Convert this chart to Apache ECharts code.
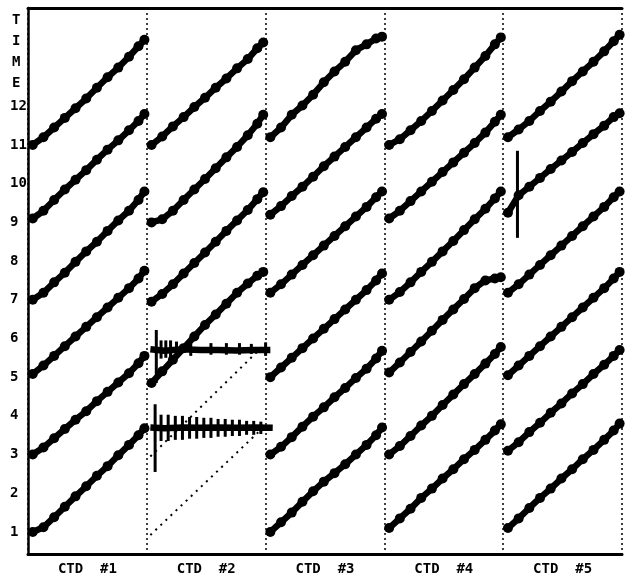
<!DOCTYPE html>
<html lang="en">
<head>
<meta charset="UTF-8">
<title>CTD TIME</title>
<script src="https://cdn.jsdelivr.net/npm/echarts@6/dist/echarts.min.js"></script>
<style>
  html, body { margin: 0; padding: 0; background: #fff; }
  #main { width: 628px; height: 579px; }
</style>
</head>
<body>
<div id="main"></div>
<script>
// panel names along the bottom, time ticks on the left
var ctdNames = ['CTD  #1', 'CTD  #2', 'CTD  #3', 'CTD  #4', 'CTD  #5'];
var timeTicks = [1, 2, 3, 4, 5, 6, 7, 8, 9, 10, 11, 12];

// position inside a panel (0 = left divider, 1 = right divider)
var fracs = [0.04, 0.13, 0.22, 0.31, 0.40, 0.49, 0.58, 0.67, 0.76, 0.85, 0.93, 0.98];

// each panel: segments from bottom to top, time read at every frac
var ctd1 = [
    [1.0, 1.12, 1.38, 1.65, 1.92, 2.18, 2.45, 2.7, 2.98, 3.25, 3.5, 3.68],
    [3.0, 3.18, 3.42, 3.66, 3.9, 4.12, 4.38, 4.62, 4.86, 5.1, 5.36, 5.55],
    [5.08, 5.3, 5.55, 5.8, 6.05, 6.3, 6.55, 6.8, 7.05, 7.3, 7.55, 7.75],
    [7.0, 7.18, 7.45, 7.7, 7.98, 8.25, 8.5, 8.78, 9.05, 9.3, 9.58, 9.8],
    [9.1, 9.3, 9.58, 9.85, 10.1, 10.35, 10.62, 10.88, 11.12, 11.38, 11.62, 11.8],
    [11.0, 11.2, 11.45, 11.7, 11.95, 12.2, 12.48, 12.75, 13.0, 13.28, 13.55, 13.72]
];
var ctd2 = [
    [4.85, 5.15, 5.45, 5.75, 6.05, 6.35, 6.62, 6.9, 7.18, 7.42, 7.62, 7.72],
    [6.95, 7.15, 7.4, 7.68, 7.95, 8.22, 8.5, 8.78, 9.05, 9.32, 9.6, 9.78],
    [9.0, 9.08, 9.3, 9.58, 9.85, 10.12, 10.4, 10.68, 10.95, 11.25, 11.55, 11.78],
    [11.0, 11.22, 11.48, 11.72, 11.98, 12.22, 12.48, 12.72, 12.98, 13.22, 13.5, 13.65]
];
var ctd3 = [
    [1.0, 1.25, 1.5, 1.78, 2.05, 2.3, 2.52, 2.75, 3.0, 3.25, 3.5, 3.7],
    [3.0, 3.2, 3.45, 3.72, 3.98, 4.22, 4.48, 4.72, 4.98, 5.22, 5.48, 5.68],
    [5.0, 5.25, 5.5, 5.75, 6.0, 6.25, 6.5, 6.75, 7.0, 7.25, 7.5, 7.68],
    [7.18, 7.4, 7.65, 7.9, 8.15, 8.4, 8.65, 8.9, 9.15, 9.4, 9.65, 9.8],
    [9.2, 9.42, 9.68, 9.92, 10.18, 10.45, 10.7, 10.95, 11.2, 11.45, 11.68, 11.8],
    [11.2, 11.45, 11.78, 12.02, 12.3, 12.62, 12.9, 13.15, 13.45, 13.6, 13.75, 13.8]
];
var ctd4 = [
    [1.1, 1.35, 1.6, 1.88, 2.12, 2.38, 2.62, 2.88, 3.12, 3.38, 3.62, 3.78],
    [3.0, 3.22, 3.48, 3.75, 4.0, 4.28, 4.55, 4.82, 5.08, 5.35, 5.6, 5.78],
    [5.12, 5.38, 5.65, 5.92, 6.2, 6.48, 6.75, 7.02, 7.3, 7.5, 7.55, 7.58],
    [7.0, 7.2, 7.45, 7.72, 7.98, 8.25, 8.52, 8.8, 9.08, 9.35, 9.62, 9.8],
    [9.1, 9.3, 9.55, 9.8, 10.05, 10.3, 10.55, 10.8, 11.05, 11.32, 11.6, 11.78],
    [11.0, 11.15, 11.38, 11.62, 11.88, 12.15, 12.42, 12.7, 13.0, 13.3, 13.6, 13.78]
];
var ctd5 = [
    [1.1, 1.35, 1.62, 1.88, 2.12, 2.38, 2.62, 2.88, 3.12, 3.38, 3.62, 3.8],
    [3.1, 3.32, 3.58, 3.82, 4.08, 4.32, 4.58, 4.82, 5.08, 5.32, 5.55, 5.7],
    [5.05, 5.3, 5.55, 5.8, 6.05, 6.3, 6.55, 6.8, 7.05, 7.3, 7.55, 7.72],
    [7.18, 7.4, 7.65, 7.9, 8.15, 8.4, 8.65, 8.9, 9.15, 9.4, 9.65, 9.8],
    [9.25, 9.7, 9.92, 10.15, 10.38, 10.6, 10.82, 11.05, 11.28, 11.5, 11.72, 11.82],
    [11.2, 11.4, 11.62, 11.88, 12.12, 12.38, 12.65, 12.9, 13.15, 13.42, 13.68, 13.85]
];
var allCtd = [ctd1, ctd2, ctd3, ctd4, ctd5];

// CTD #2 gaps: dotted straight fill-ins [x, time]
var gapLow = [[1.03, 0.92], [1.96, 3.64]];
var gapHigh = [[1.03, 2.95], [1.97, 5.78]];

// CTD #2 noisy flat records [x, time]
var flatHigh = [[1.03, 5.72], [1.15, 5.68], [1.3, 5.72], [1.45, 5.7], [1.6, 5.7], [1.75, 5.69], [1.9, 5.7], [2.04, 5.7]];
var flatLow = [[1.03, 3.7], [1.15, 3.68], [1.3, 3.7], [1.45, 3.69], [1.6, 3.7], [1.75, 3.69], [1.9, 3.7], [2.06, 3.69]];

// vertical spikes [x, low, high]
var spikes = [
    [1.08, 4.85, 6.22], [1.12, 5.48, 5.95], [1.16, 5.5, 5.95], [1.2, 5.5, 5.95], [1.25, 5.55, 5.92],
    [1.37, 5.55, 5.9], [1.54, 5.58, 5.88], [1.67, 5.58, 5.88], [1.78, 5.58, 5.88], [1.88, 5.6, 5.86], [2.0, 5.55, 5.9],
    [1.07, 2.55, 4.3], [1.12, 3.35, 4.03], [1.18, 3.35, 4.03], [1.24, 3.38, 4.0], [1.3, 3.38, 4.0],
    [1.36, 3.41, 3.97], [1.42, 3.41, 3.97], [1.48, 3.43, 3.95], [1.54, 3.43, 3.95], [1.6, 3.46, 3.92],
    [1.66, 3.46, 3.92], [1.72, 3.48, 3.9], [1.78, 3.48, 3.9], [1.84, 3.51, 3.87], [1.9, 3.51, 3.87], [1.96, 3.53, 3.85],
    [4.12, 8.6, 10.85]
];

var series = [];
allCtd.forEach(function (panel, p) {
    panel.forEach(function (seg) {
        series.push({
            type: 'line',
            data: fracs.map(function (f, i) { return [p + f, seg[i]]; }),
            symbol: 'circle',
            symbolSize: 10,
            itemStyle: { color: '#000' },
            lineStyle: { color: '#000', width: 6.5 },
            silent: true
        });
    });
});

[gapLow, gapHigh].forEach(function (d) {
    series.push({
        type: 'line', data: d, showSymbol: false, silent: true,
        lineStyle: { color: '#000', width: 2, type: [2, 5] }
    });
});

[flatHigh, flatLow].forEach(function (d) {
    series.push({
        type: 'line', data: d, showSymbol: false, silent: true,
        lineStyle: { color: '#000', width: 6.5 }
    });
});

series.push({
    type: 'custom',
    data: spikes,
    silent: true,
    renderItem: function (params, api) {
        var a = api.coord([api.value(0), api.value(1)]);
        var b = api.coord([api.value(0), api.value(2)]);
        return {
            type: 'line',
            shape: { x1: a[0], y1: a[1], x2: b[0], y2: b[1] },
            style: { stroke: '#000', lineWidth: 3 }
        };
    }
});

var chart = echarts.init(document.getElementById('main'));
chart.setOption({
    animation: false,
    backgroundColor: '#fff',
    grid: { left: 28, right: 6, top: 8, bottom: 25 },
    xAxis: [{
        type: 'value', min: 0, max: 5, interval: 1,
        axisLine: { lineStyle: { color: '#000', width: 3 } },
        axisTick: { show: false },
        splitLine: { show: true, lineStyle: { color: '#000', width: 1.5, type: [2, 3] } },
        axisLabel: {
            customValues: [0.5, 1.5, 2.5, 3.5, 4.5],
            formatter: function (v) { return ctdNames[Math.floor(v)]; },
            color: '#000', fontFamily: 'DejaVu Sans Mono', fontWeight: 'bold', fontSize: 14, margin: 8
        }
    }, {
        type: 'value', min: 0, max: 5, position: 'top',
        axisLine: { show: true, lineStyle: { color: '#000', width: 3 } },
        axisTick: { show: false }, axisLabel: { show: false }, splitLine: { show: false }
    }],
    yAxis: {
        type: 'value', min: 0.43, max: 14.54,
        axisLine: { show: true, lineStyle: { color: '#000', width: 2.5 } },
        axisTick: { show: false },
        splitLine: { show: false },
        axisLabel: {
            customValues: timeTicks,
            align: 'left', margin: 18,
            color: '#000', fontFamily: 'DejaVu Sans Mono', fontWeight: 'bold', fontSize: 14
        }
    },
    graphic: [{
        type: 'text', left: 12, top: 10,
        style: { text: 'T\nI\nM\nE', font: 'bold 14px "DejaVu Sans Mono"', lineHeight: 21, fill: '#000' }
    }],
    series: series
});
</script>
</body>
</html>
